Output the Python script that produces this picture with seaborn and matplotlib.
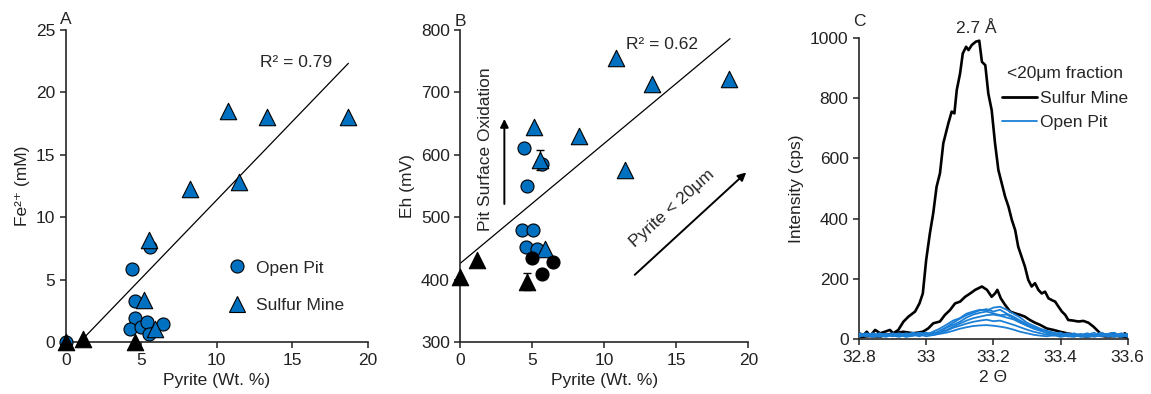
import numpy as np
import pandas as pd
import matplotlib
matplotlib.use("Agg")
import matplotlib.pyplot as plt
import seaborn as sns
from matplotlib.lines import Line2D

# ---------------- Panel A data ----------------
a_pit_x = [0.0, 4.37, 5.58, 4.59, 4.59, 4.26, 4.99, 5.36, 5.54, 6.46]
a_pit_y = [0.0, 5.9, 7.65, 3.3, 1.97, 1.06, 1.2, 1.65, 0.64, 1.44]
a_mine_x = [10.77, 13.3, 18.7, 8.23, 11.5, 5.52, 5.19, 5.9]
a_mine_y = [18.5, 18.0, 18.0, 12.3, 12.8, 8.2, 3.4, 1.1]
a_mine_low_x = [0.0, 1.17, 4.6]
a_mine_low_y = [0.0, 0.3, 0.0]
a_fit_x = [1.28, 18.72]
a_fit_slope, a_fit_int = 1.255, -1.16
a_r2 = "R² = 0.79"

# ---------------- Panel B data ----------------
b_pit_x = [4.42, 4.6, 5.65, 4.3, 5.02, 4.56, 5.3]
b_pit_y = [611, 551, 585, 480, 480, 453, 449]
b_mine_x = [10.81, 13.33, 18.68, 5.12, 8.26, 11.46, 5.53, 5.88]
b_mine_y = [755, 714, 722, 645, 631, 576, 592, 450]
b_pit_low_x = [5.0, 6.46, 5.65]
b_pit_low_y = [435, 428, 410]
b_mine_low_x = [0.0, 1.13, 4.6]
b_mine_low_y = [404, 432, 397]
b_err_x = [5.53, 4.6]
b_err_y = [592, 397]
b_err = [16, 14]
b_fit_x = [0.0, 18.73]
b_fit_slope, b_fit_int = 19.2, 426.5
b_r2 = "R² = 0.62"

# ---------------- Panel C data ----------------
c_mine1_x = [32.800, 32.813, 32.823, 32.833, 32.848, 32.863, 32.877, 32.892, 32.902, 32.917,
             32.932, 32.947, 32.967, 32.980, 32.990, 33.000, 33.011, 33.021, 33.031, 33.041,
             33.051, 33.066, 33.076, 33.084, 33.091, 33.101, 33.109, 33.119, 33.126, 33.136,
             33.148, 33.158, 33.166, 33.176, 33.185, 33.195, 33.205, 33.215, 33.225, 33.235,
             33.245, 33.255, 33.265, 33.274, 33.284, 33.294, 33.304, 33.314, 33.324, 33.334,
             33.344, 33.354, 33.364, 33.374, 33.384, 33.394, 33.404, 33.414, 33.423, 33.438,
             33.453, 33.468, 33.483, 33.498, 33.508, 33.518, 33.537, 33.557, 33.577, 33.592,
             33.600]
c_mine1_y = [20, 14, 25, 11, 31, 20, 25, 31, 20, 31,
             58, 75, 92, 119, 152, 263, 351, 418, 506, 550,
             650, 716, 755, 749, 826, 882, 948, 970, 959, 976,
             987, 990, 920, 909, 815, 760, 650, 561, 517, 473,
             440, 396, 362, 307, 274, 241, 197, 175, 186, 164,
             152, 158, 136, 130, 125, 108, 92, 81, 64, 62,
             59, 61, 55, 42, 31, 20, 14, 20, 11, 20,
             3]
c_mine2_x = [32.800, 32.833, 32.863, 32.902, 32.932, 32.962, 32.990, 33.006, 33.021, 33.041,
             33.056, 33.071, 33.086, 33.101, 33.116, 33.131, 33.146, 33.166, 33.181, 33.195,
             33.205, 33.212, 33.222, 33.235, 33.250, 33.265, 33.280, 33.294, 33.309, 33.324,
             33.339, 33.359, 33.379, 33.399, 33.419, 33.448, 33.478, 33.508, 33.537, 33.567,
             33.597]
c_mine2_y = [7, 11, 9, 20, 25, 20, 25, 36, 53, 59,
             81, 97, 119, 125, 141, 152, 164, 175, 164, 141,
             152, 164, 136, 114, 92, 86, 81, 75, 64, 55,
             48, 36, 31, 25, 20, 14, 9, 14, 9, 11,
             7]
c_pit_x = [32.80, 32.82, 32.84, 32.86, 32.88, 32.90, 32.92, 32.94, 32.96, 32.98,
           33.00, 33.02, 33.04, 33.06, 33.08, 33.10, 33.12, 33.14, 33.16, 33.18,
           33.20, 33.22, 33.24, 33.26, 33.28, 33.30, 33.32, 33.34, 33.36, 33.38,
           33.40, 33.42, 33.44, 33.46, 33.48, 33.50, 33.52, 33.54, 33.56, 33.58, 33.60]
c_pit1_y = [18, 12, 20, 14, 8, 15, 20, 12, 18, 22, 15, 25, 35, 48, 62, 70, 85, 92, 98, 95,
            105, 108, 98, 85, 72, 55, 45, 35, 28, 22, 15, 18, 10, 14, 20, 12, 22, 15, 10, 18, 8]
c_pit2_y = [12, 20, 15, 10, 18, 12, 8, 16, 22, 14, 20, 18, 28, 40, 55, 68, 80, 88, 96, 100,
            92, 98, 85, 75, 62, 50, 38, 30, 25, 18, 22, 12, 16, 8, 15, 22, 10, 18, 12, 20, 14]
c_pit3_y = [20, 14, 8, 18, 12, 20, 15, 10, 14, 18, 22, 15, 22, 38, 48, 58, 72, 82, 88, 92,
            86, 80, 82, 70, 58, 46, 40, 32, 20, 16, 12, 20, 14, 18, 10, 14, 20, 8, 16, 12, 18]
c_pit4_y = [8, 16, 12, 20, 15, 10, 18, 14, 12, 20, 16, 22, 20, 30, 42, 52, 62, 70, 75, 80,
            82, 78, 72, 66, 55, 45, 35, 28, 22, 15, 18, 10, 20, 12, 16, 8, 14, 18, 22, 10, 15]
c_pit5_y = [15, 10, 18, 8, 14, 18, 12, 20, 15, 10, 18, 14, 20, 28, 38, 45, 52, 58, 62, 65,
            60, 62, 55, 48, 40, 32, 25, 20, 15, 12, 16, 10, 8, 14, 18, 12, 10, 16, 8, 14, 10]
c_pit6_y = [10, 15, 8, 12, 18, 10, 15, 8, 12, 16, 10, 14, 18, 22, 28, 35, 40, 44, 46, 47,
            45, 42, 38, 32, 25, 20, 15, 12, 10, 14, 8, 12, 15, 10, 8, 12, 14, 10, 16, 8, 12]
c_xticks = [32.8, 33.0, 33.2, 33.4, 33.6]
c_xticklabels = ["32.8", "33", "33.2", "33.4", "33.6"]

BLUE = "#0070C0"
LBLUE = "#1C7FD6"
FS = 12.5

sns.set_style("ticks")
plt.rcParams["font.family"] = ["Liberation Sans", "DejaVu Sans"]
plt.rcParams["font.size"] = FS
plt.rcParams["axes.linewidth"] = 1.2
plt.rcParams["xtick.major.size"] = 4
plt.rcParams["ytick.major.size"] = 4
plt.rcParams["xtick.major.width"] = 1.1
plt.rcParams["ytick.major.width"] = 1.1
plt.rcParams["xtick.color"] = "#222222"
plt.rcParams["ytick.color"] = "#222222"

W, H = 1151, 394
fig = plt.figure(figsize=(W / 100, H / 100), dpi=100)

def px_axes(l, r, t, b):
    return fig.add_axes([l / W, 1 - b / H, (r - l) / W, (b - t) / H])

axA = px_axes(65.7, 367.7, 30, 342.3)
axB = px_axes(460.3, 748.3, 30, 342.3)
axC = px_axes(859, 1127.7, 37.7, 339.3)

for ax in (axA, axB, axC):
    sns.despine(ax=ax)
    ax.tick_params(labelsize=FS, colors="#222222")

S_C, S_T = 88, 140
kw = dict(edgecolor="black", linewidth=0.8, clip_on=False, legend=False)

# ---------------- Panel A ----------------
sns.scatterplot(x=a_pit_x, y=a_pit_y, marker="o", s=S_C, color=BLUE, ax=axA, zorder=3, **kw)
sns.scatterplot(x=a_mine_x, y=a_mine_y, marker="^", s=S_T, color=BLUE, ax=axA, zorder=4, **kw)
sns.scatterplot(x=a_mine_low_x, y=a_mine_low_y, marker="^", s=S_T, color="black", ax=axA, zorder=5, **kw)
a_fx = np.array(a_fit_x)
sns.lineplot(x=a_fx, y=a_fit_slope * a_fx + a_fit_int, color="black", lw=0.9, ax=axA, zorder=2)
axA.set_xlim(0, 20)
axA.set_ylim(0, 25)
axA.set_xticks([0, 5, 10, 15, 20])
axA.set_yticks([0, 5, 10, 15, 20, 25])
axA.set_xlabel("Pyrite (Wt. %)", fontsize=FS, color="#222222")
axA.set_ylabel("Fe²⁺ (mM)", fontsize=FS, color="#222222")
axA.text(12.85, 22.4, a_r2, fontsize=FS, va="center", ha="left")
hA = [Line2D([], [], marker="o", ls="", markerfacecolor=BLUE, markeredgecolor="black",
             markeredgewidth=0.8, markersize=9.4),
      Line2D([], [], marker="^", ls="", markerfacecolor=BLUE, markeredgecolor="black",
             markeredgewidth=0.8, markersize=11.8)]
axA.legend(hA, ["Open Pit", "Sulfur Mine"], frameon=False, loc="upper left",
           bbox_to_anchor=(0.505, 0.29), handlelength=1.2, handletextpad=0.45,
           labelspacing=1.3, borderpad=0, fontsize=FS)

# ---------------- Panel B ----------------
sns.scatterplot(x=b_pit_x, y=b_pit_y, marker="o", s=S_C, color=BLUE, ax=axB, zorder=3, **kw)
sns.scatterplot(x=b_mine_x, y=b_mine_y, marker="^", s=S_T, color=BLUE, ax=axB, zorder=4, **kw)
sns.scatterplot(x=b_pit_low_x, y=b_pit_low_y, marker="o", s=S_C, color="black", ax=axB, zorder=5, **kw)
sns.scatterplot(x=b_mine_low_x, y=b_mine_low_y, marker="^", s=S_T, color="black", ax=axB, zorder=5, **kw)
axB.errorbar(b_err_x, b_err_y, yerr=b_err, fmt="none", ecolor="black", elinewidth=1,
             capsize=3, zorder=2)
b_fx = np.array(b_fit_x)
sns.lineplot(x=b_fx, y=b_fit_slope * b_fx + b_fit_int, color="black", lw=0.9, ax=axB, zorder=2)
axB.set_xlim(0, 20)
axB.set_ylim(300, 800)
axB.set_xticks([0, 5, 10, 15, 20])
axB.set_yticks([300, 400, 500, 600, 700, 800])
axB.set_xlabel("Pyrite (Wt. %)", fontsize=FS, color="#222222")
axB.set_ylabel("Eh (mV)", fontsize=FS, color="#222222")
axB.text(11.5, 776, b_r2, fontsize=FS, va="center", ha="left")
axB.annotate("", xy=(3.06, 662), xytext=(3.06, 517),
             arrowprops=dict(arrowstyle="-|>", color="black", lw=1.4, mutation_scale=12))
axB.text(1.76, 609, "Pit Surface Oxidation", rotation=90, fontsize=FS,
         ha="center", va="center")
axB.annotate("", xy=(20.0, 575), xytext=(11.97, 405),
             arrowprops=dict(arrowstyle="-|>", color="black", lw=1.4, mutation_scale=12),
             annotation_clip=False)
axB.text(14.7, 515, "Pyrite < 20μm", rotation=42, fontsize=FS, ha="center", va="center",
         rotation_mode="anchor")

# ---------------- Panel C ----------------
for yy in (c_pit1_y, c_pit2_y, c_pit3_y, c_pit4_y, c_pit5_y, c_pit6_y):
    sns.lineplot(x=c_pit_x, y=yy, color=LBLUE, lw=1.3, ax=axC, zorder=3, estimator=None)
sns.lineplot(x=c_mine2_x, y=c_mine2_y, color="black", lw=1.9, ax=axC, zorder=2, estimator=None)
sns.lineplot(x=c_mine1_x, y=c_mine1_y, color="black", lw=1.9, ax=axC, zorder=2, estimator=None)
axC.set_xlim(32.8, 33.6)
axC.set_ylim(0, 1000)
axC.set_xticks(c_xticks)
axC.set_xticklabels(c_xticklabels)
axC.set_yticks([0, 200, 400, 600, 800, 1000])
axC.set_xlabel("2 Θ", fontsize=FS, color="#222222")
axC.set_ylabel("Intensity (cps)", fontsize=FS, color="#222222")
axC.text(33.148, 1030, "2.7 Å", fontsize=FS, ha="center", va="center", clip_on=False)
hC = [Line2D([], [], color="black", lw=2.0), Line2D([], [], color=LBLUE, lw=1.3)]
axC.legend(hC, ["Sulfur Mine", "Open Pit"], title="<20μm fraction", frameon=False,
           loc="upper right", bbox_to_anchor=(1.035, 0.935), handlelength=2.0,
           handletextpad=0.2, labelspacing=0.55, borderpad=0, fontsize=FS,
           title_fontsize=FS)

# panel letters
fig.text(60 / W, 1 - 19 / H, "A", fontsize=FS, ha="left", va="center")
fig.text(455 / W, 1 - 21 / H, "B", fontsize=FS, ha="left", va="center")
fig.text(853 / W, 1 - 21 / H, "C", fontsize=FS, ha="left", va="center")

fig.savefig("out.png", dpi=100)
